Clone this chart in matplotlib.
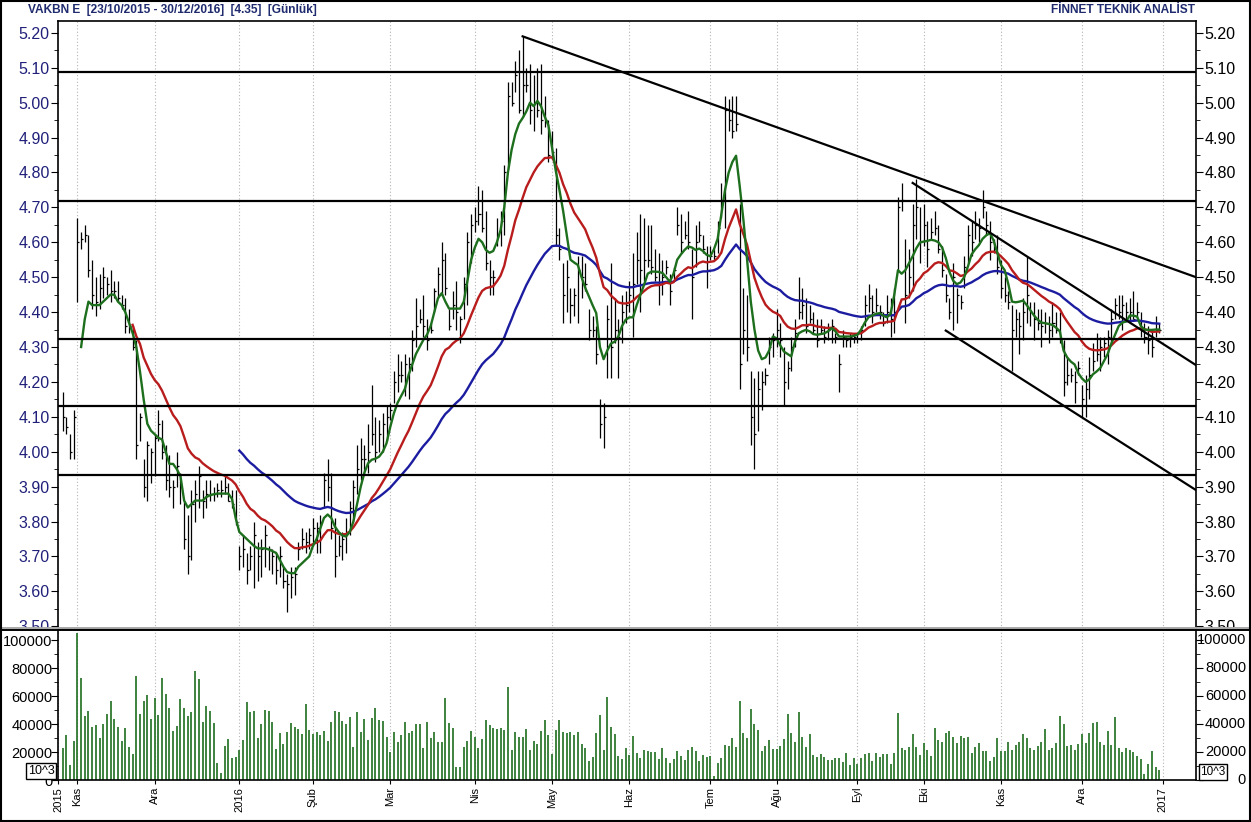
import numpy as np
import pandas as pd
import matplotlib
matplotlib.use("Agg")
import matplotlib.pyplot as plt
from matplotlib.lines import Line2D
from matplotlib.patches import Rectangle
from matplotlib.ticker import MultipleLocator, FixedLocator
from matplotlib.transforms import blended_transform_factory

# VAKBN daily bars 23/10/2015 - 30/12/2016, x = trading day index
high = [4.17, 4.10, 4.05, 4.12, 4.67, 4.63, 4.65, 4.62, 4.55, 4.50,
        4.51, 4.53, 4.50, 4.52, 4.49, 4.49, 4.45, 4.44, 4.41, 4.36,
        4.32, 4.11, 3.98, 4.03, 4.01, 4.05, 4.12, 4.09, 4.02, 3.99,
        3.92, 4.00, 3.94, 3.86, 3.82, 3.89, 3.92, 3.96, 3.89, 3.92,
        3.92, 3.90, 3.91, 3.92, 3.93, 3.91, 3.89, 3.89, 3.73, 3.76,
        3.71, 3.73, 3.80, 3.74, 3.75, 3.79, 3.73, 3.72, 3.71, 3.73,
        3.67, 3.65, 3.67, 3.67, 3.74, 3.78, 3.77, 3.78, 3.81, 3.80,
        3.82, 3.94, 3.98, 3.94, 3.81, 3.76, 3.77, 3.81, 3.86, 3.92,
        4.02, 4.04, 4.02, 4.08, 4.19, 4.10, 4.09, 4.11, 4.13, 4.14,
        4.23, 4.28, 4.26, 4.28, 4.27, 4.35, 4.44, 4.41, 4.45, 4.38,
        4.37, 4.47, 4.53, 4.60, 4.57, 4.41, 4.46, 4.49, 4.39, 4.50,
        4.63, 4.68, 4.70, 4.76, 4.75, 4.69, 4.55, 4.52, 4.67, 4.69,
        4.82, 5.06, 5.06, 5.12, 5.15, 5.19, 5.10, 5.11, 5.08, 5.10,
        5.11, 5.02, 4.95, 4.92, 4.87, 4.64, 4.54, 4.55, 4.47, 4.47,
        4.56, 4.56, 4.54, 4.41, 4.39, 4.36, 4.15, 4.14, 4.42, 4.54,
        4.44, 4.38, 4.45, 4.46, 4.49, 4.57, 4.63, 4.68, 4.67, 4.65,
        4.65, 4.58, 4.57, 4.55, 4.55, 4.51, 4.53, 4.70, 4.68, 4.66,
        4.69, 4.58, 4.65, 4.66, 4.62, 4.59, 4.59, 4.58, 4.66, 4.77,
        5.02, 5.01, 5.02, 5.02, 4.71, 4.47, 4.45, 4.23, 4.21, 4.23,
        4.23, 4.24, 4.33, 4.34, 4.41, 4.37, 4.30, 4.26, 4.33, 4.38,
        4.50, 4.47, 4.44, 4.42, 4.40, 4.38, 4.38, 4.36, 4.37, 4.38,
        4.34, 4.28, 4.35, 4.33, 4.34, 4.34, 4.34, 4.36, 4.45, 4.48,
        4.45, 4.47, 4.42, 4.40, 4.45, 4.44, 4.47, 4.73, 4.77, 4.61,
        4.58, 4.71, 4.78, 4.70, 4.71, 4.66, 4.67, 4.69, 4.65, 4.59,
        4.51, 4.44, 4.54, 4.47, 4.45, 4.56, 4.65, 4.66, 4.69, 4.67,
        4.75, 4.69, 4.66, 4.61, 4.62, 4.55, 4.50, 4.46, 4.42, 4.41,
        4.40, 4.44, 4.56, 4.43, 4.43, 4.41, 4.41, 4.40, 4.39, 4.43,
        4.40, 4.40, 4.32, 4.27, 4.24, 4.23, 4.26, 4.19, 4.22, 4.27,
        4.31, 4.34, 4.33, 4.33, 4.35, 4.41, 4.44, 4.45, 4.45, 4.43,
        4.44, 4.46, 4.43, 4.40, 4.37, 4.36, 4.35, 4.39, 4.37]

low = [4.06, 4.05, 3.98, 3.98, 4.43, 4.58, 4.60, 4.50, 4.41, 4.39,
       4.41, 4.44, 4.45, 4.43, 4.44, 4.43, 4.41, 4.34, 4.34, 4.29,
       3.98, 4.03, 3.87, 3.86, 3.91, 3.93, 4.03, 3.98, 3.89, 3.87,
       3.84, 3.90, 3.85, 3.72, 3.65, 3.69, 3.80, 3.84, 3.81, 3.84,
       3.86, 3.86, 3.87, 3.87, 3.88, 3.86, 3.84, 3.79, 3.66, 3.67,
       3.62, 3.66, 3.61, 3.63, 3.64, 3.67, 3.66, 3.65, 3.62, 3.64,
       3.61, 3.54, 3.58, 3.59, 3.69, 3.72, 3.71, 3.72, 3.73, 3.71,
       3.71, 3.84, 3.86, 3.75, 3.64, 3.70, 3.69, 3.71, 3.76, 3.80,
       3.88, 3.92, 3.94, 3.94, 4.02, 3.97, 4.00, 4.00, 4.03, 4.09,
       4.14, 4.17, 4.20, 4.16, 4.15, 4.23, 4.30, 4.37, 4.33, 4.29,
       4.34, 4.40, 4.44, 4.45, 4.45, 4.35, 4.38, 4.35, 4.31, 4.38,
       4.42, 4.54, 4.63, 4.65, 4.63, 4.52, 4.45, 4.45, 4.59, 4.59,
       4.62, 4.81, 4.99, 5.03, 4.97, 4.96, 5.03, 4.94, 4.92, 4.96,
       4.91, 4.93, 4.83, 4.84, 4.59, 4.55, 4.37, 4.40, 4.37, 4.39,
       4.37, 4.44, 4.46, 4.32, 4.33, 4.25, 4.04, 4.01, 4.21, 4.21,
       4.31, 4.21, 4.31, 4.37, 4.40, 4.33, 4.48, 4.40, 4.49, 4.53,
       4.51, 4.49, 4.42, 4.45, 4.51, 4.42, 4.49, 4.62, 4.57, 4.61,
       4.58, 4.38, 4.53, 4.60, 4.57, 4.47, 4.55, 4.55, 4.57, 4.67,
       4.64, 4.92, 4.90, 4.92, 4.18, 4.28, 4.26, 4.02, 3.95, 4.06,
       4.12, 4.19, 4.25, 4.27, 4.30, 4.27, 4.13, 4.18, 4.23, 4.30,
       4.38, 4.38, 4.34, 4.37, 4.34, 4.30, 4.34, 4.31, 4.32, 4.31,
       4.31, 4.17, 4.30, 4.30, 4.30, 4.31, 4.31, 4.32, 4.36, 4.40,
       4.37, 4.40, 4.38, 4.36, 4.37, 4.33, 4.34, 4.52, 4.69, 4.37,
       4.44, 4.46, 4.61, 4.54, 4.59, 4.53, 4.61, 4.62, 4.57, 4.50,
       4.43, 4.38, 4.35, 4.37, 4.41, 4.47, 4.54, 4.56, 4.61, 4.60,
       4.67, 4.62, 4.55, 4.57, 4.51, 4.44, 4.43, 4.41, 4.23, 4.33,
       4.28, 4.32, 4.37, 4.36, 4.32, 4.35, 4.30, 4.34, 4.31, 4.33,
       4.34, 4.31, 4.16, 4.19, 4.20, 4.14, 4.22, 4.10, 4.10, 4.15,
       4.23, 4.26, 4.23, 4.27, 4.25, 4.31, 4.38, 4.38, 4.35, 4.38,
       4.37, 4.38, 4.39, 4.33, 4.31, 4.28, 4.27, 4.33, 4.34]

close = [4.10, 4.07, 4.00, 4.10, 4.60, 4.61, 4.62, 4.52, 4.45, 4.43,
         4.47, 4.50, 4.48, 4.46, 4.46, 4.44, 4.42, 4.36, 4.36, 4.30,
         4.02, 4.10, 3.90, 4.02, 4.00, 4.04, 4.08, 4.00, 3.92, 3.90,
         3.90, 3.96, 3.90, 3.75, 3.70, 3.85, 3.88, 3.93, 3.86, 3.88,
         3.88, 3.88, 3.89, 3.89, 3.90, 3.86, 3.85, 3.80, 3.70, 3.72,
         3.66, 3.70, 3.76, 3.70, 3.72, 3.76, 3.72, 3.70, 3.66, 3.70,
         3.63, 3.62, 3.64, 3.65, 3.72, 3.75, 3.74, 3.76, 3.78, 3.78,
         3.80, 3.92, 3.90, 3.78, 3.70, 3.73, 3.75, 3.77, 3.84, 3.90,
         3.95, 3.98, 3.98, 4.00, 4.05, 4.00, 4.05, 4.08, 4.10, 4.12,
         4.20, 4.22, 4.22, 4.25, 4.25, 4.32, 4.36, 4.38, 4.36, 4.32,
         4.35, 4.46, 4.51, 4.55, 4.47, 4.36, 4.42, 4.40, 4.38, 4.48,
         4.60, 4.65, 4.66, 4.68, 4.64, 4.54, 4.50, 4.50, 4.62, 4.66,
         4.80, 5.02, 5.00, 5.08, 4.98, 5.05, 5.05, 4.98, 5.00, 4.98,
         4.95, 4.95, 4.85, 4.86, 4.62, 4.58, 4.45, 4.50, 4.42, 4.45,
         4.52, 4.50, 4.48, 4.35, 4.35, 4.28, 4.08, 4.10, 4.38, 4.30,
         4.35, 4.33, 4.40, 4.42, 4.45, 4.48, 4.55, 4.52, 4.55, 4.55,
         4.53, 4.50, 4.48, 4.50, 4.53, 4.46, 4.52, 4.65, 4.60, 4.62,
         4.60, 4.50, 4.60, 4.62, 4.58, 4.52, 4.56, 4.56, 4.64, 4.72,
         4.98, 4.95, 4.92, 4.94, 4.25, 4.35, 4.30, 4.10, 4.05, 4.18,
         4.20, 4.22, 4.30, 4.32, 4.35, 4.32, 4.20, 4.24, 4.30, 4.34,
         4.40, 4.42, 4.36, 4.38, 4.35, 4.32, 4.35, 4.33, 4.35, 4.36,
         4.33, 4.25, 4.33, 4.32, 4.33, 4.33, 4.34, 4.35, 4.42, 4.44,
         4.40, 4.42, 4.40, 4.37, 4.40, 4.38, 4.40, 4.70, 4.72, 4.45,
         4.50, 4.65, 4.70, 4.60, 4.65, 4.58, 4.63, 4.64, 4.58, 4.52,
         4.45, 4.40, 4.50, 4.45, 4.43, 4.53, 4.62, 4.60, 4.65, 4.64,
         4.70, 4.65, 4.60, 4.58, 4.53, 4.47, 4.45, 4.43, 4.35, 4.38,
         4.36, 4.40, 4.45, 4.40, 4.38, 4.37, 4.36, 4.37, 4.35, 4.37,
         4.35, 4.32, 4.20, 4.22, 4.22, 4.20, 4.24, 4.15, 4.18, 4.22,
         4.26, 4.28, 4.30, 4.31, 4.33, 4.38, 4.42, 4.40, 4.42, 4.40,
         4.40, 4.38, 4.40, 4.35, 4.33, 4.32, 4.30, 4.35, 4.35]

# short moving average (green)
ma_green = [np.nan] * 5 + [
    4.30, 4.38, 4.43, 4.42, 4.42, 4.42, 4.43, 4.44, 4.45, 4.45,
    4.43, 4.42, 4.40, 4.37, 4.34, 4.30, 4.23, 4.15, 4.08, 4.06,
    4.05, 4.04, 4.035, 4.00, 3.965, 3.965, 3.95, 3.93, 3.86, 3.84,
    3.85, 3.86, 3.86, 3.86, 3.87, 3.875, 3.878, 3.88, 3.88, 3.88,
    3.88, 3.865, 3.81, 3.77, 3.76, 3.75, 3.74, 3.73, 3.723, 3.723,
    3.723, 3.72, 3.715, 3.71, 3.69, 3.67, 3.655, 3.652, 3.652, 3.67,
    3.68, 3.69, 3.70, 3.73, 3.75, 3.78, 3.81, 3.82, 3.81, 3.785,
    3.77, 3.76, 3.757, 3.77, 3.80, 3.85, 3.90, 3.94, 3.967, 3.977,
    3.98, 3.986, 4.00, 4.024, 4.07, 4.11, 4.14, 4.16, 4.18, 4.22,
    4.25, 4.28, 4.30, 4.32, 4.335, 4.36, 4.40, 4.44, 4.454, 4.43,
    4.41, 4.41, 4.41, 4.41, 4.43, 4.49, 4.55, 4.585, 4.61, 4.60,
    4.578, 4.57, 4.575, 4.60, 4.635, 4.70, 4.80, 4.865, 4.91, 4.94,
    4.956, 4.975, 5.00, 4.99, 5.005, 4.99, 4.96, 4.935, 4.87, 4.805,
    4.75, 4.69, 4.62, 4.55, 4.542, 4.535, 4.50, 4.47, 4.445, 4.42,
    4.397, 4.30, 4.265, 4.29, 4.31, 4.315, 4.33, 4.36, 4.378, 4.385,
    4.385, 4.42, 4.45, 4.478, 4.51, 4.516, 4.516, 4.515, 4.512, 4.50,
    4.487, 4.51, 4.55, 4.565, 4.578, 4.588, 4.585, 4.578, 4.582, 4.575,
    4.564, 4.56, 4.58, 4.61, 4.68, 4.75, 4.80, 4.83, 4.848, 4.76,
    4.664, 4.55, 4.43, 4.35, 4.29, 4.265, 4.27, 4.29, 4.33, 4.325,
    4.305, 4.287, 4.28, 4.273, 4.315, 4.339, 4.345, 4.349, 4.345, 4.337,
    4.335, 4.337, 4.339, 4.345, 4.354, 4.345, 4.33, 4.33, 4.33, 4.33,
    4.332, 4.335, 4.35, 4.37, 4.385, 4.39, 4.395, 4.397, 4.39, 4.385,
    4.395, 4.45, 4.52, 4.51, 4.52, 4.54, 4.56, 4.583, 4.60, 4.602,
    4.604, 4.607, 4.605, 4.60, 4.585, 4.555, 4.515, 4.49, 4.48, 4.485,
    4.50, 4.53, 4.565, 4.58, 4.592, 4.61, 4.62, 4.626, 4.605, 4.57,
    4.535, 4.52, 4.48, 4.43, 4.428, 4.43, 4.433, 4.42, 4.405, 4.39,
    4.378, 4.37, 4.368, 4.366, 4.363, 4.355, 4.345, 4.29, 4.27, 4.258,
    4.25, 4.225, 4.21, 4.20, 4.207, 4.222, 4.23, 4.24, 4.26, 4.28,
    4.31, 4.335, 4.36, 4.37, 4.373, 4.39, 4.39, 4.387, 4.36, 4.35,
    4.349, 4.349, 4.35, 4.35]

# volume (x10^3)
volume = [22600, 32000, 10700, 27800, 104800, 73000, 46000, 49500, 38000, 39000,
          30000, 40000, 47000, 56700, 43800, 38000, 27800, 37000, 23800, 18300,
          74300, 47000, 56700, 60700, 43800, 58300, 46700, 73000, 61400, 51400,
          35000, 38800, 58000, 51400, 45700, 48600, 78000, 72000, 41400, 53000,
          49300, 41000, 12400, 5200, 24500, 29300, 15700, 16700, 21400, 28300,
          55700, 48300, 49300, 30200, 40000, 50000, 49300, 41200, 22400, 33300,
          25500, 34300, 40500, 38000, 36400, 33000, 54300, 35500, 33000, 34300,
          32400, 35000, 27800, 41400, 49500, 48300, 42100, 40200, 45000, 23800,
          48300, 34300, 43600, 28600, 44000, 51400, 42800, 41900, 31000, 20000,
          34000, 27400, 32400, 41400, 33800, 35000, 40200, 40200, 23000, 41700,
          29800, 34500, 26900, 27400, 58300, 41000, 37400, 9500, 9500, 23800,
          27800, 35200, 30500, 23000, 29500, 42800, 39500, 37400, 36700, 37000,
          35700, 66600, 21400, 34000, 31000, 31000, 36700, 21400, 28100, 25700,
          35200, 42800, 32100, 18300, 35700, 42800, 34300, 33800, 34300, 32100,
          34500, 25500, 23000, 13600, 16700, 33800, 46600, 21400, 59500, 38000,
          32800, 17100, 15000, 23000, 17900, 31700, 19000, 15500, 21400, 21000,
          19800, 19800, 15200, 23000, 15500, 12400, 15000, 21000, 17400, 14300,
          21400, 23800, 20700, 13600, 17900, 16700, 17100, 2900, 11900, 16000,
          25200, 24000, 29800, 23300, 56600, 33300, 29800, 50700, 40000, 35700,
          20700, 24500, 28600, 22100, 22100, 24500, 29300, 47000, 33800, 27100,
          48300, 31000, 23800, 32800, 17900, 16700, 18300, 16700, 14300, 14300,
          15500, 16000, 13100, 19500, 10700, 15500, 11400, 15500, 18600, 19500,
          13600, 19500, 16700, 18300, 18300, 11200, 19000, 47600, 22600, 21400,
          23800, 32800, 23800, 17900, 26700, 21400, 17400, 37100, 28600, 27400,
          33300, 35200, 30500, 26200, 31400, 29800, 30500, 19000, 23800, 26200,
          20700, 20700, 13600, 16700, 29800, 20700, 20700, 27100, 21400, 25000,
          27400, 32800, 29800, 23100, 21400, 24500, 27400, 36400, 21400, 22600,
          26700, 45900, 40000, 24500, 25000, 21400, 25500, 32800, 26200, 33300,
          40500, 41400, 27400, 24800, 35000, 25000, 44700, 22600, 20200, 22600,
          21400, 19800, 17400, 15000, 4000, 11200, 20700, 9000, 7100]

# month starts (trading-day index) and labels
month_pos = [4, 25, 48, 68, 89, 112, 133, 154, 176, 194, 216, 234, 255, 277, 299]
month_lbl = ["Kas", "Ara", "2016", "Şub", "Mar", "Nis", "May", "Haz",
             "Tem", "Ağu", "Eyl", "Eki", "Kas", "Ara", "2017"]

# drawn support / resistance and trend lines
levels = [5.088, 4.719, 4.323, 4.131, 3.933]
trends = [((125, 5.19), (308, 4.50)),
          ((231, 4.77), (308, 4.248)),
          ((240, 4.347), (308, 3.89))]

vol_ticks = list(range(0, 100001, 20000))
title = "VAKBN E  [23/10/2015 - 30/12/2016]  [4.35]  [Günlük]"
brand = "FİNNET TEKNİK ANALİST"

plt.rcParams["font.family"] = ["Liberation Sans", "DejaVu Sans"]

x = np.arange(len(close))
s = pd.Series(close)
# exponential averages seeded from the first close, shown once the period is full
ma_red = s.ewm(span=20, adjust=False).mean()
ma_red[:19] = np.nan
ma_blue = s.ewm(span=50, adjust=False).mean()
ma_blue[:48] = np.nan

W, H = 1251, 822
def box(l, t, r, b):
    return [l / W, 1 - b / H, (r - l) / W, (b - t) / H]

fig = plt.figure(figsize=(W / 100, H / 100), dpi=100)
ax = fig.add_axes(box(58, 21, 1196, 629), zorder=0)
axv = fig.add_axes(box(58, 629, 1196, 780), zorder=2)
# white strip hides the lower half of the 3.50 labels, like the original
fig.add_artist(Rectangle((0, 0), 1, 1 - 629 / H, transform=fig.transFigure,
                         fc="white", ec="none", zorder=1))

xmin, xmax = -1.28, 308
navy = "#20207a"
grid_kw = dict(color="#b4b4b4", lw=0.8, ls=(0, (1, 2)))

# price panel
ax.vlines(x, low, high, color="black", lw=0.9, zorder=2)
ax.hlines(close, x, x + 0.55, color="black", lw=0.9, zorder=2)
ax.plot(x, ma_blue, color="#1c1ca0", lw=1.7, zorder=3)
ax.plot(x, ma_red, color="#b81c1c", lw=1.7, zorder=3)
ax.plot(x, ma_green, color="#1d6f1d", lw=1.7, zorder=3)
for lv in levels:
    ax.axhline(lv, color="black", lw=1.6, zorder=4)
for (x0, y0), (x1, y1) in trends:
    ax.plot([x0, x1], [y0, y1], color="black", lw=1.6, zorder=4)

ax.set_xlim(xmin, xmax)
ax.set_ylim(3.492, 5.234)
ax.set_yticks(np.arange(3.5, 5.21, 0.1))
ax.set_yticklabels([f"{v:.2f}" for v in np.arange(3.5, 5.21, 0.1)])
ax.yaxis.set_minor_locator(MultipleLocator(0.05))
ax.tick_params(axis="y", which="both", left=True, right=True,
               labelleft=True, labelright=True, direction="out",
               labelsize=11.5, pad=1)
ax.tick_params(axis="y", which="major", length=5)
ax.tick_params(axis="y", which="minor", length=3)
for t in ax.yaxis.get_major_ticks():
    t.label1.set_color(navy)
    t.label2.set_color("black")
ax.xaxis.set_major_locator(FixedLocator(month_pos))
ax.tick_params(axis="x", length=0, labelbottom=False)
ax.grid(axis="x", **grid_kw)
for sp in ax.spines.values():
    sp.set_linewidth(1.2)

# volume panel
axv.vlines(x, 0, volume, color="#1e6e1e", lw=1.2)
axv.set_xlim(xmin, xmax)
axv.set_ylim(0, 107900)
axv.set_yticks(vol_ticks)
axv.set_yticklabels([str(v) for v in vol_ticks])
axv.yaxis.set_minor_locator(MultipleLocator(10000))
axv.tick_params(axis="y", which="both", left=True, right=True,
                labelleft=True, labelright=False, direction="out",
                labelsize=10.5, pad=-1)
axv.tick_params(axis="y", which="major", length=5)
axv.tick_params(axis="y", which="minor", length=3)
# right-hand volume labels are right-aligned to the frame in the original
rtrans = blended_transform_factory(fig.transFigure, axv.transData)
for v in vol_ticks:
    axv.text(1246 / W, v, str(v), transform=rtrans, ha="right", va="center",
             fontsize=10.5, clip_on=False)
axv.set_xticks([xmin] + month_pos)
axv.set_xticklabels(["2015"] + month_lbl, rotation=90, fontsize=8)
axv.tick_params(axis="x", length=3, pad=2)
axv.grid(axis="x", **grid_kw)
for sp in axv.spines.values():
    sp.set_linewidth(1.2)

# panel separator across the whole width
fig.add_artist(Line2D([0, 1], [1 - 627.5 / H] * 2, transform=fig.transFigure,
                      color="#a8a8a8", lw=1.4, zorder=5))
fig.add_artist(Line2D([0, 1], [1 - 629.5 / H] * 2, transform=fig.transFigure,
                      color="black", lw=1.4, zorder=5))

# 10^3 unit boxes
box_kw = dict(boxstyle="square,pad=0.15", fc="white", ec="black", lw=1)
fig.text(41 / W, 1 - 771 / H, "10^3", fontsize=9, ha="center", va="center",
         bbox=box_kw, zorder=6)
fig.text(1213 / W, 1 - 772 / H, "10^3", fontsize=8.5, ha="center", va="center",
         bbox=box_kw, zorder=6)

# header texts
fig.text(28 / W, 1 - 10 / H, title, fontsize=8.6, fontweight="bold",
         color="#1f2b6e", va="center", ha="left")
fig.text(1195 / W, 1 - 10 / H, brand, fontsize=8.6, fontweight="bold",
         color="#1f2b6e", va="center", ha="right")

# outer frame
fig.add_artist(Rectangle((0.0008, 0.0012), 0.9984, 0.9976,
                         transform=fig.transFigure, fill=False,
                         ec="black", lw=1.5, zorder=7))

fig.savefig("out.png", dpi=100)
